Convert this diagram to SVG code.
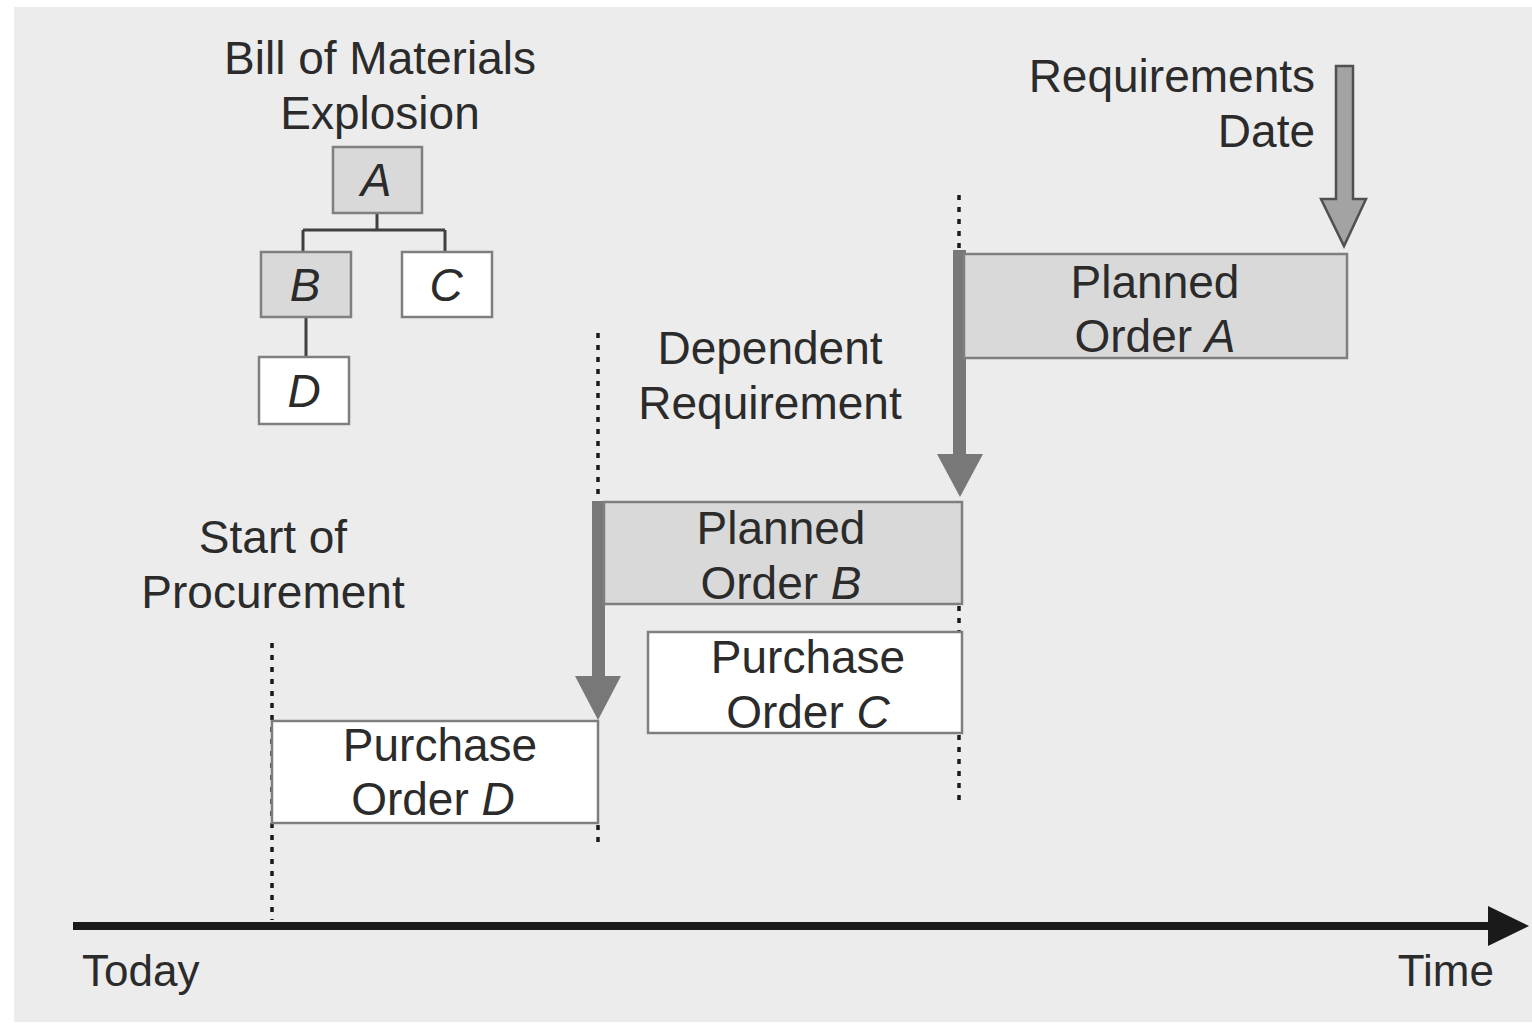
<svg xmlns="http://www.w3.org/2000/svg" width="1532" height="1023" viewBox="0 0 1532 1023">
  <style>
    text { font-family: "Liberation Sans", Arial, sans-serif; font-size: 46px; fill: #2b2b2b; }
    .c { text-anchor: middle; }
    .r { text-anchor: end; }
    .it { font-style: italic; }
    .axis-label { font-size: 44px; }
    .shaded { fill: #d9d9d9; stroke: #7f7f7f; stroke-width: 2.5; }
    .plain { fill: #ffffff; stroke: #7f7f7f; stroke-width: 2.5; }
    .tree { fill: none; stroke: #404040; stroke-width: 3; }
    .dots { fill: none; stroke: #1a1a1a; stroke-width: 3.5; stroke-dasharray: 5 7; }
    .flow { fill: #787878; stroke: none; }
  </style>

  <!-- canvas -->
  <rect x="14" y="7" width="1518" height="1015" fill="#ececec"/>

  <!-- bill of materials tree -->
  <g id="bom-title">
    <text class="c" x="380" y="74">Bill of Materials</text>
    <text class="c" x="380" y="129">Explosion</text>
  </g>
  <g id="bom-links">
    <path class="tree" d="M377 213 V230 M303 230 H445 M303 230 V252 M445 230 V252 M306 317 V357"/>
  </g>
  <g id="bom-a">
    <rect class="shaded" x="333" y="147" width="89" height="66"/>
    <text class="c it" x="376" y="196">A</text>
  </g>
  <g id="bom-b">
    <rect class="shaded" x="261" y="252" width="90" height="65"/>
    <text class="c it" x="305" y="301">B</text>
  </g>
  <g id="bom-c">
    <rect class="plain" x="402" y="252" width="90" height="65"/>
    <text class="c it" x="446" y="301">C</text>
  </g>
  <g id="bom-d">
    <rect class="plain" x="259" y="357" width="90" height="67"/>
    <text class="c it" x="304" y="407">D</text>
  </g>

  <!-- free labels -->
  <g id="label-requirements-date">
    <text class="r" x="1315" y="92">Requirements</text>
    <text class="r" x="1315" y="147">Date</text>
  </g>
  <g id="label-dependent">
    <text class="c" x="770" y="364">Dependent</text>
    <text class="c" x="770" y="419">Requirement</text>
  </g>
  <g id="label-start">
    <text class="c" x="273" y="553">Start of</text>
    <text class="c" x="273" y="608">Procurement</text>
  </g>

  <!-- connectors: dotted time markers and scheduling arrows -->
  <g id="connectors">
    <path class="dots" d="M959 195 V250 M959 606 V632 M959 735 V800 M598 333 V500 M598 825 V846 M272 643 V920"/>
    <path id="req-date-arrow" d="M1336 66 H1353 V199 H1366 L1344 246 L1321 199 H1336 Z" fill="#a3a3a3" stroke="#505050" stroke-width="2.5" stroke-linejoin="miter"/>
    <path id="dep-a-to-b" class="flow" d="M953 250 H966 V454 H983 L960 497 L937 454 H953 Z"/>
    <path id="dep-b-to-d" class="flow" d="M592 501 H605 V676 H621 L598 720 L575 676 H592 Z"/>
  </g>

  <!-- orders -->
  <g id="planned-order-a">
    <rect class="shaded" x="964" y="254" width="383" height="104"/>
    <text class="c" x="1155" y="298">Planned</text>
    <text class="c" x="1155" y="352">Order <tspan class="it">A</tspan></text>
  </g>
  <g id="planned-order-b">
    <rect class="shaded" x="604" y="502" width="358" height="102"/>
    <text class="c" x="781" y="544">Planned</text>
    <text class="c" x="781" y="599">Order <tspan class="it">B</tspan></text>
  </g>
  <g id="purchase-order-c">
    <rect class="plain" x="648" y="632" width="314" height="101"/>
    <text class="c" x="808" y="673">Purchase</text>
    <text class="c" x="808" y="728">Order <tspan class="it">C</tspan></text>
  </g>
  <g id="purchase-order-d">
    <rect class="plain" x="272" y="721" width="326" height="102"/>
    <text class="c" x="440" y="761">Purchase</text>
    <text class="c" x="433" y="815">Order <tspan class="it">D</tspan></text>
  </g>

  <!-- time axis -->
  <g id="time-axis">
    <rect x="73" y="922" width="1420" height="8" fill="#1a1a1a"/>
    <path d="M1488 906 L1529 926 L1488 946 Z" fill="#1a1a1a"/>
    <text class="axis-label" x="82" y="986">Today</text>
    <text class="r axis-label" x="1494" y="986">Time</text>
  </g>
</svg>
